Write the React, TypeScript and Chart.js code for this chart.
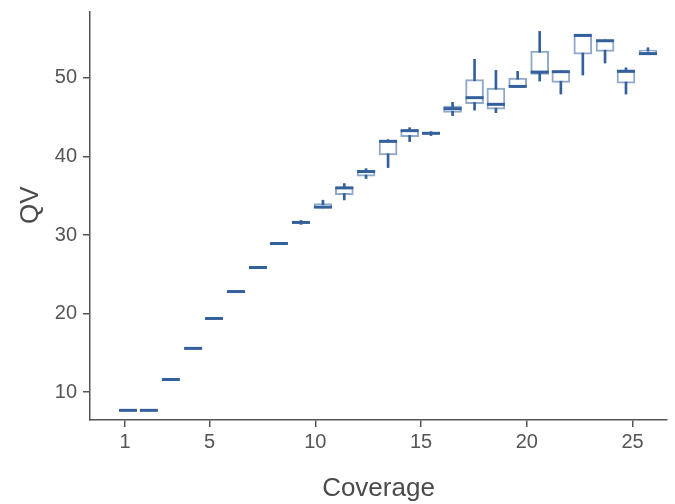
import { useEffect, useRef } from 'react';
import { Chart, registerables } from 'chart.js';

Chart.register(...registerables);

// Coverage of each box (x position)
const coverage = [1.14, 2.13, 3.17, 4.22, 5.21, 6.25, 7.29, 8.28, 9.32, 10.36, 11.37, 12.4, 13.44, 14.46, 15.47, 16.49, 17.53, 18.54, 19.57, 20.61, 21.61, 22.65, 23.7, 24.69, 25.73];
const whiskerLow = [7.67, 7.67, 11.6, 15.56, 19.37, 22.8, 25.86, 28.8, 31.35, 33.45, 34.47, 37.19, 38.59, 41.9, 42.66, 45.2, 45.9, 45.58, 48.85, 49.6, 47.95, 50.37, 51.9, 47.95, 53.0];
const q1 = [7.67, 7.67, 11.6, 15.56, 19.37, 22.8, 25.86, 28.9, 31.55, 33.5, 35.15, 37.5, 40.19, 42.53, 42.9, 45.62, 46.73, 46.04, 48.89, 50.46, 49.44, 53.04, 53.38, 49.35, 53.09];
const median = [7.67, 7.67, 11.6, 15.56, 19.37, 22.8, 25.86, 28.92, 31.6, 33.55, 36.0, 38.08, 41.93, 43.29, 42.95, 46.09, 47.49, 46.64, 48.92, 50.75, 50.8, 55.42, 54.74, 50.84, 53.1];
const q3 = [7.67, 7.67, 11.6, 15.56, 19.37, 22.8, 25.86, 28.95, 31.65, 34.0, 36.1, 38.24, 42.0, 43.35, 43.0, 46.43, 49.78, 48.72, 49.99, 53.43, 50.85, 55.45, 54.8, 51.05, 53.55];
const whiskerHigh = [7.67, 7.67, 11.6, 15.56, 19.37, 22.8, 25.86, 29.05, 31.85, 34.43, 36.55, 38.45, 42.15, 43.67, 43.17, 46.9, 52.37, 50.97, 50.84, 55.93, 50.9, 55.5, 54.85, 51.3, 53.85];

const xTicks = [1, 5, 10, 15, 20, 25];
const yTicks = [10, 20, 30, 40, 50];

const DARK = '#34609c';
const BOX_EDGE = 'rgba(52,96,156,0.55)';
const AXIS = '#555555';
const TICK_TEXT = '#555555';
const TITLE_TEXT = '#4a4a4a';
const FONT = '"Liberation Sans", Arial, sans-serif';

export default function App() {
  const ref = useRef<HTMLCanvasElement>(null);

  useEffect(() => {
    document.body.style.margin = '0';
    const canvas = ref.current;
    if (!canvas) return;
    const chart = new Chart(canvas, {
      type: 'bar',
      data: {
        datasets: [
          {
            type: 'scatter',
            label: 'median',
            data: coverage.map((x, i) => ({ x, y: median[i] })),
            pointStyle: 'line',
            pointRadius: 9,
            pointHoverRadius: 9,
            pointBorderWidth: 3,
            borderColor: DARK,
            pointBorderColor: DARK,
            order: 0,
          } as any,
          {
            type: 'bar',
            label: 'box',
            data: coverage.map((x, i) => ({ x, y: [q1[i], q3[i]] })),
            backgroundColor: '#ffffff',
            borderColor: BOX_EDGE,
            borderWidth: 2,
            borderSkipped: false,
            barThickness: 18,
            grouped: false,
            order: 1,
          } as any,
          {
            type: 'bar',
            label: 'whisker',
            data: coverage.map((x, i) => ({ x, y: [whiskerLow[i], whiskerHigh[i]] })),
            backgroundColor: DARK,
            borderWidth: 0,
            barThickness: 2,
            grouped: false,
            order: 2,
          } as any,
        ],
      },
      options: {
        animation: false,
        responsive: false,
        devicePixelRatio: 1,
        layout: { autoPadding: false, padding: { top: 12, right: 8, left: 0, bottom: 0 } },
        plugins: {
          legend: { display: false },
          tooltip: { enabled: false },
        },
        scales: {
          x: {
            type: 'linear',
            offset: false,
            min: -0.655,
            max: 26.63,
            afterBuildTicks: (s: any) => {
              s.ticks = xTicks.map((v) => ({ value: v }));
            },
            afterFit: (s: any) => {
              s.height = 84;
              s.paddingLeft = 0;
              s.paddingRight = 0;
            },
            grid: {
              display: true,
              offset: false,
              drawOnChartArea: false,
              drawTicks: true,
              tickLength: 7,
              color: AXIS,
              lineWidth: 1.5,
            },
            border: { display: true, color: AXIS, width: 1.5 },
            ticks: {
              color: TICK_TEXT,
              font: { family: FONT, size: 20 },
              padding: 3,
              autoSkip: false,
              maxRotation: 0,
              callback: (v: any) => String(v),
            },
            title: {
              display: true,
              text: 'Coverage',
              color: TITLE_TEXT,
              font: { family: FONT, size: 26 },
              padding: { top: 0, bottom: 0 },
            },
          },
          y: {
            type: 'linear',
            min: 6.44,
            max: 58.4,
            afterBuildTicks: (s: any) => {
              s.ticks = yTicks.map((v) => ({ value: v }));
            },
            afterFit: (s: any) => {
              s.width = 90;
              s.paddingTop = 0;
              s.paddingBottom = 0;
            },
            grid: {
              display: true,
              drawOnChartArea: false,
              drawTicks: true,
              tickLength: 7,
              color: AXIS,
              lineWidth: 1.5,
            },
            border: { display: true, color: AXIS, width: 1.5 },
            ticks: {
              color: TICK_TEXT,
              font: { family: FONT, size: 20 },
              padding: 6,
              callback: (v: any) => String(v),
            },
            title: {
              display: true,
              text: '   QV',
              color: TITLE_TEXT,
              font: { family: FONT, size: 26 },
              padding: { top: 15, bottom: 0 },
            },
          },
        },
      },
    });
    return () => chart.destroy();
  }, []);

  return (
    <div style={{ width: 675, height: 504 }}>
      <canvas ref={ref} width={675} height={504} />
    </div>
  );
}
